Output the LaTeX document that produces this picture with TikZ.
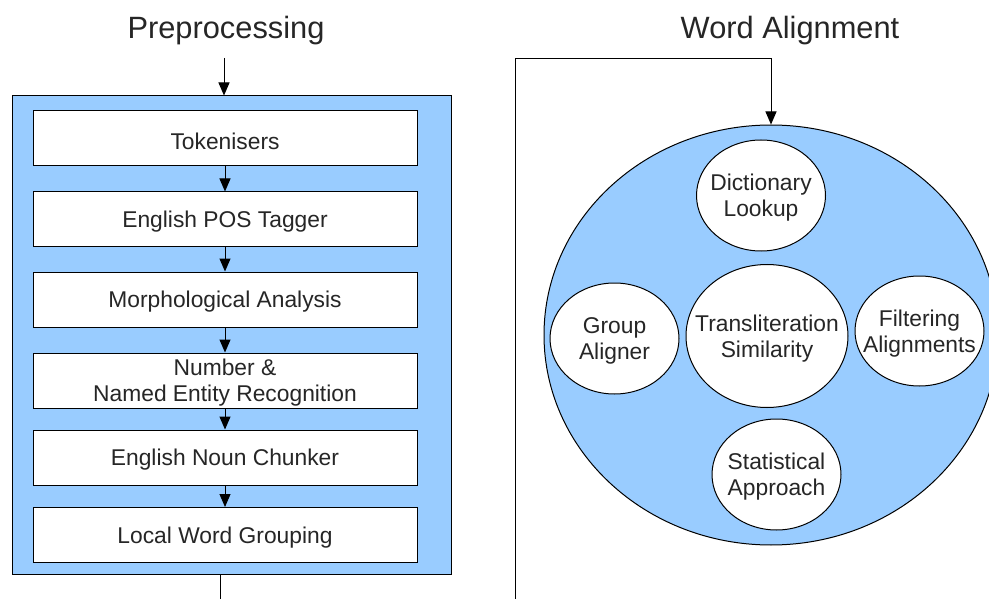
\documentclass[tikz,border=0pt]{standalone}
\usepackage{fontspec}
\setmainfont{Liberation Sans}
\usetikzlibrary{arrows.meta,shapes.geometric}
\definecolor{panelblue}{RGB}{153,204,255}
\definecolor{txt}{RGB}{38,38,38}
\begin{document}
\begin{tikzpicture}[x=1pt,y=-1pt,
  line width=1pt,
  arr/.style={-{Triangle[length=13pt,width=11pt]}},
  modtext/.style={font=\fontsize{22.8}{26}\selectfont, text=txt, align=center, inner sep=0pt, yshift=-2.5pt},
  stagebox/.style={draw, fill=white, minimum width=384pt, minimum height=55pt, inner sep=0pt,
    label={[modtext]center:{#1}}},
  modell/.style={draw, fill=white, ellipse, inner sep=0pt, minimum width=129pt, minimum height=111pt,
    label={[modtext]center:{#1}}},
  title/.style={font=\fontsize{30.8}{34}\selectfont, text=txt}]
\useasboundingbox (0,0) rectangle (989,599);
% titles
\node[title] (t1) at (226,31) {Preprocessing};
\node[title] (t2) at (790,31) {Word Alignment};
% preprocessing panel
\node[draw, fill=panelblue, minimum width=439pt, minimum height=478pt, inner sep=0pt] (pre) at (231.5,335) {};
\node[stagebox={Tokenisers}] (b1) at (225,138.5) {};
\node[stagebox={English POS Tagger}] (b2) at (225,219.5) {};
\node[stagebox={Morphological Analysis}] (b3) at (225,299.5) {};
\node[stagebox={Number \&\\Named Entity Recognition}] (b4) at (225,380.5) {};
\node[stagebox={English Noun Chunker}] (b5) at (225,457.5) {};
\node[stagebox={Local Word Grouping}] (b6) at (225,535) {};
\coordinate (in) at (224,58);
\draw[arr] (in) -- (in |- pre.north);
\draw[arr] (b1.south) -- (b2.north);
\draw[arr] (b2.south) -- (b3.north);
\draw[arr] (b3.south) -- (b4.north);
\draw[arr] (b4.south) -- (b5.north);
\draw[arr] (b5.south) -- (b6.north);
\coordinate (out) at (220,600);
\draw (out |- pre.south) -- (out);
% word alignment
\node[draw, fill=panelblue, ellipse, inner sep=0pt, minimum width=454pt, minimum height=420pt] (big) at (771,335) {};
\node[modell={Dictionary\\Lookup}] (dict) at (761,195.5) {};
\node[modell={Group\\Aligner}] (group) at (614.5,338.5) {};
\node[modell={Transliteration\\Similarity}, minimum width=162pt, minimum height=143pt] (trans) at (767,336) {};
\node[modell={Filtering\\Alignments}, minimum height=110pt] (filt) at (919.5,331) {};
\node[modell={Statistical\\Approach}] (stat) at (776.5,474.5) {};
\coordinate (wstart) at (515,600);
\coordinate (corner) at (771,59);
\draw[arr] (wstart) |- (corner) -- (corner |- big.north);
\end{tikzpicture}
\end{document}
